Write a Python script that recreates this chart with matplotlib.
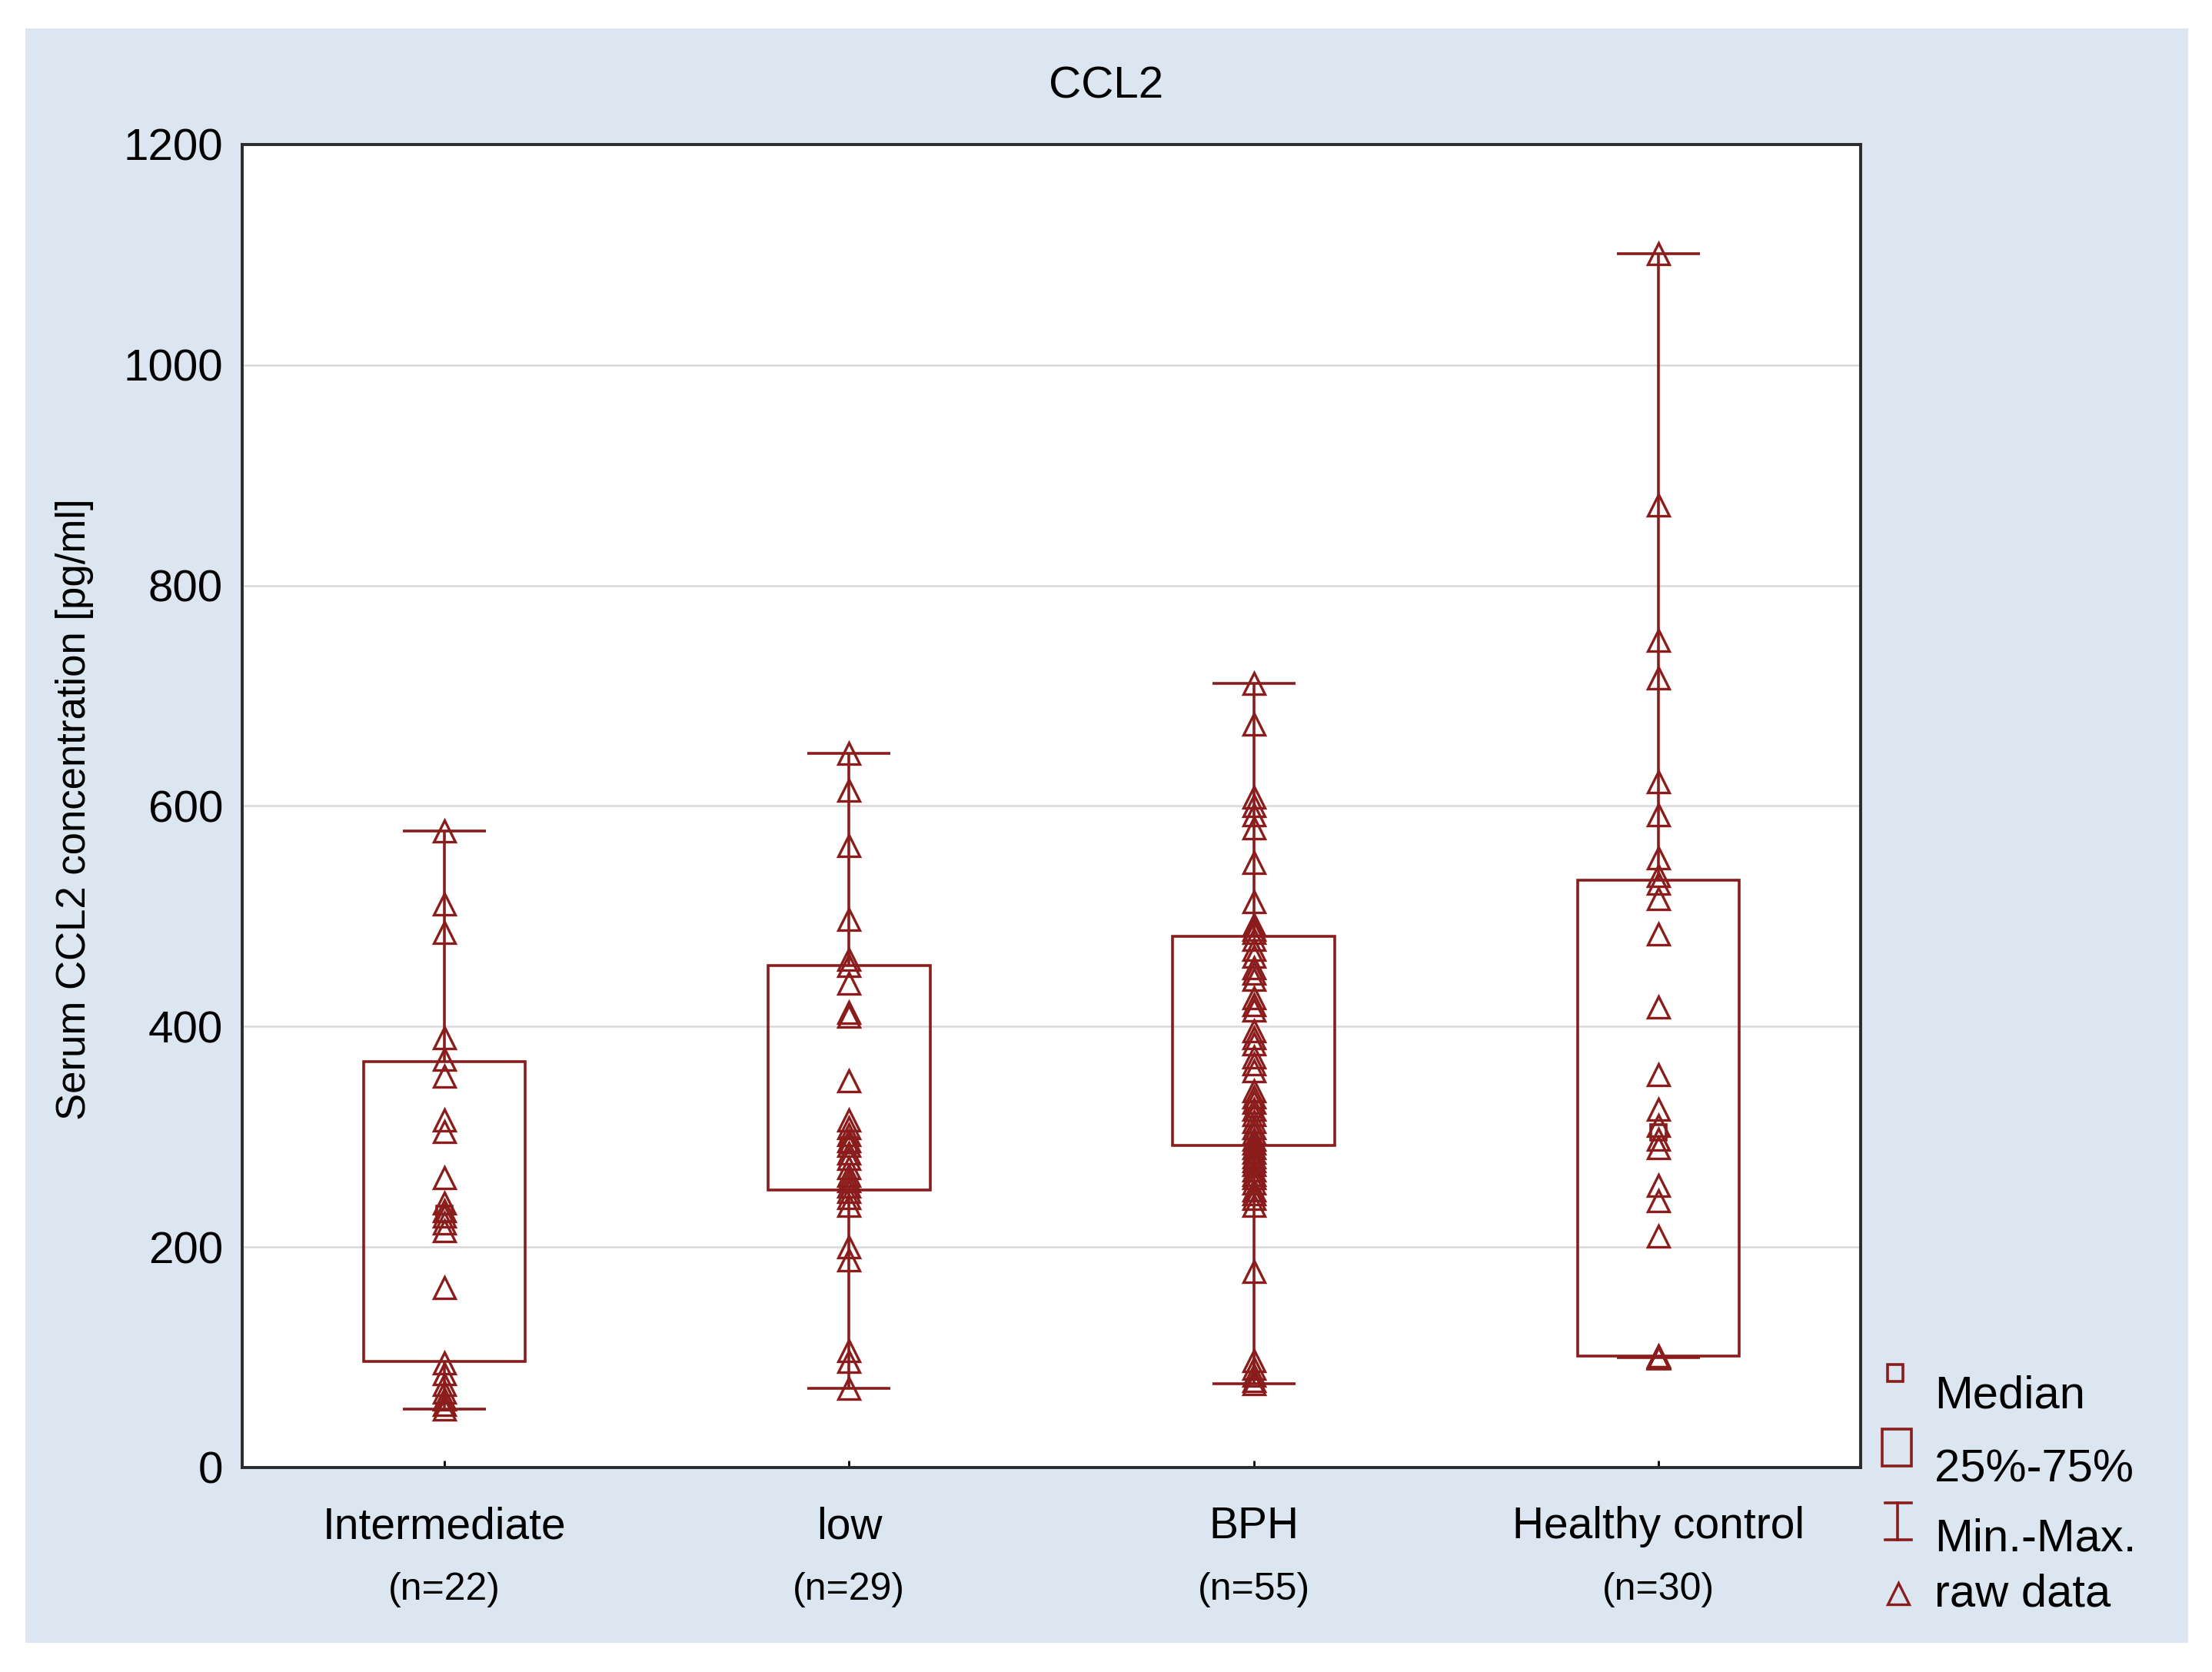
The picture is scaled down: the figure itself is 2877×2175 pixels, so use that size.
import matplotlib
matplotlib.use("Agg")
import matplotlib.pyplot as plt
import matplotlib.transforms as mtransforms
from matplotlib.patches import Rectangle
import numpy as np

plt.rcParams["font.family"] = ["Liberation Sans", "DejaVu Sans"]

# --- data ---
groups = ["Intermediate", "low", "BPH", "Healthy control"]
group_n = [22, 29, 55, 30]

raw_intermediate = [577, 511, 485, 390, 370, 355, 315, 305, 263, 240, 233,
                    228, 222, 215, 163, 95, 85, 75, 68, 62, 57, 53]
raw_low = [648, 614, 564, 497, 461, 455, 439, 413, 409, 351, 315, 308, 302,
           296, 292, 285, 280, 272, 265, 260, 255, 250, 245, 238, 200, 188,
           106, 96, 72]
raw_bph = [711, 674, 608, 600, 592, 580, 549, 513, 492, 488, 485, 479, 470,
           464, 453, 448, 443, 426, 420, 415, 396, 390, 384, 372, 366, 360,
           342, 336, 331, 325, 320, 314, 308, 303, 298, 294, 290, 286, 282,
           278, 275, 270, 266, 263, 258, 252, 248, 244, 238, 178, 97, 90, 84,
           79, 76]
raw_healthy = [1101, 873, 750, 716, 622, 592, 553, 537, 530, 516, 484, 418,
               356, 325, 310, 298, 290, 256, 242, 210, 101, 101, 100, 100,
               100, 100, 100, 100, 100, 100]
raw_data = [raw_intermediate, raw_low, raw_bph, raw_healthy]

# box / whisker summary (as drawn by Statistica)
stat_min = [53, 72, 76, 100]
stat_q1 = [96, 252, 292, 101]
stat_median = [230, 292, 325, 304]
stat_q3 = [368, 455, 482, 533]
stat_max = [577, 648, 711, 1101]

y_ticks = [0, 200, 400, 600, 800, 1000, 1200]

RED = "#8b1c1c"
PANEL = "#dce6f1"
W, H, DPI = 2877, 2175, 200

fig = plt.figure(figsize=(W / DPI, H / DPI), dpi=DPI, facecolor="white")

# background panel + legend live on a pixel-space overlay
bg = fig.add_axes([0, 0, 1, 1], zorder=0)
bg.set_xlim(0, W)
bg.set_ylim(H, 0)
bg.axis("off")
bg.add_patch(Rectangle((33, 37), 2813, 2100, facecolor=PANEL, edgecolor="none"))

ax = fig.add_axes([315 / W, 1 - 1909 / H, (2420 - 315) / W, (1909 - 188) / H], zorder=1)
ax.set_facecolor("white")

pos = np.arange(1, len(groups) + 1)
box_w = 0.40
cap_w = 0.205
lw = 1.3

for i, x in enumerate(pos):
    ax.add_patch(Rectangle((x - box_w / 2, stat_q1[i]), box_w, stat_q3[i] - stat_q1[i],
                           facecolor="none", edgecolor=RED, linewidth=lw, zorder=3))
    ax.vlines(x, stat_q3[i], stat_max[i], color=RED, linewidth=lw, zorder=3)
    ax.vlines(x, stat_min[i], stat_q1[i], color=RED, linewidth=lw, zorder=3)
    ax.hlines([stat_min[i], stat_max[i]], x - cap_w / 2, x + cap_w / 2,
              color=RED, linewidth=lw, zorder=3)
    ax.plot([x], [stat_median[i]], "s", ms=7, mfc="none", mec=RED, mew=1.3, zorder=4)
    vals = raw_data[i]
    ax.plot(np.full(len(vals), x), vals, "^", ms=10, mfc="none", mec=RED,
            mew=1.2, zorder=5, linestyle="none")

ax.set_xlim(0.5, len(groups) + 0.5)
ax.set_ylim(0, 1200)
ax.set_yticks(y_ticks)
ax.yaxis.grid(True, color="#d9d9d9", linewidth=0.9)
ax.set_axisbelow(True)
ax.tick_params(axis="y", length=0, pad=9, labelsize=21)
ax.set_xticks(pos, groups)
ax.tick_params(axis="x", direction="in", length=3.2, width=1, pad=18, labelsize=20.5)
for sp in ax.spines.values():
    sp.set_linewidth(1.4)
    sp.set_color("#2b2b2b")

trans = mtransforms.blended_transform_factory(ax.transData, ax.transAxes)
for x, n in zip(pos, group_n):
    ax.text(x, (1909 - 2068) / (1909 - 188), f"(n={n})", ha="center", va="center",
            fontsize=18, transform=trans)

fig.text(0.5, 1 - 128 / H, "CCL2", ha="center", va="baseline", fontsize=21)
fig.text(97 / W, 1 - 1053 / H, "Serum CCL2 concentration [pg/ml]", rotation=90,
         ha="center", va="center", fontsize=19)

# legend, hand placed like the Statistica one
bg.add_patch(Rectangle((2455, 1775), 20, 22, facecolor="none", edgecolor=RED, linewidth=lw))
bg.add_patch(Rectangle((2448, 1859), 38, 48, facecolor="none", edgecolor=RED, linewidth=lw))
bg.plot([2452, 2486], [1955, 1955], color=RED, linewidth=lw)
bg.plot([2452, 2486], [2003, 2003], color=RED, linewidth=lw)
bg.plot([2468, 2468], [1955, 2003], color=RED, linewidth=lw)
bg.plot([2469], [2073], "^", ms=10, mfc="none", mec=RED, mew=1.2)
legend_labels = ["Median", "25%-75%", "Min.-Max.", "raw data"]
legend_base = [1832, 1927, 2018, 2090]
for lab, yb in zip(legend_labels, legend_base):
    bg.text(2516, yb, lab, ha="left", va="baseline", fontsize=21.5)

fig.savefig("out.png", dpi=DPI, facecolor=fig.get_facecolor())
